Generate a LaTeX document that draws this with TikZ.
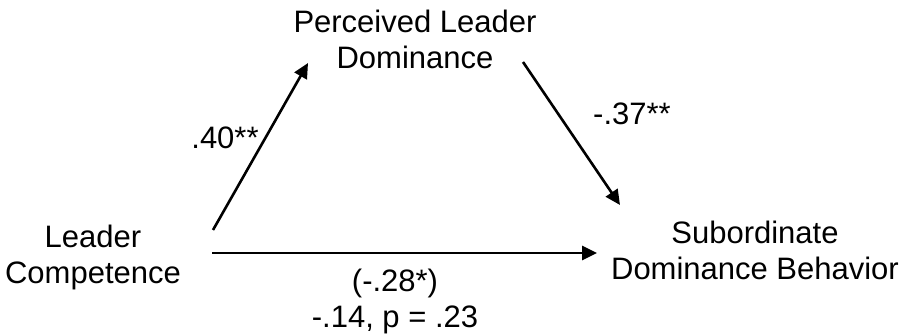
\documentclass[tikz,border=0pt]{standalone}
\usepackage{fontspec}
\setmainfont{Liberation Sans}
\usetikzlibrary{arrows.meta}
\begin{document}
\begin{tikzpicture}[x=1pt,y=-1pt,
  lbl/.style={inner sep=0pt, align=center, font=\fontsize{31}{36}\selectfont},
  conn/.style={line width=2.6pt, -{Triangle[length=15pt,width=14pt]}}]
\useasboundingbox (0,0) rectangle (902,336);
\node[lbl] (pld) at (415,39) {Perceived Leader\\Dominance};
\node[lbl] (lc) at (93,257) {Leader\\Competence};
\node[lbl] (sdb) at (755,250) {Subordinate\\Dominance Behavior};
\node[lbl] (a) at (225,137.5) {.40**};
\node[lbl] (b) at (632,114) {-.37**};
\node[lbl] (c) at (395,301) {(-.28*)\\-.14, p = .23};
\coordinate (upS) at (213,230);
\coordinate (upE) at (308,63);
\coordinate (dnS) at (523,62);
\coordinate (dnE) at (620,205);
\coordinate (hS) at (212,253);
\coordinate (hE) at (597,253);
\draw[conn] (upS) -- (upE);
\draw[conn] (dnS) -- (dnE);
\draw[conn] (hS) -- (hE);
\end{tikzpicture}
\end{document}
